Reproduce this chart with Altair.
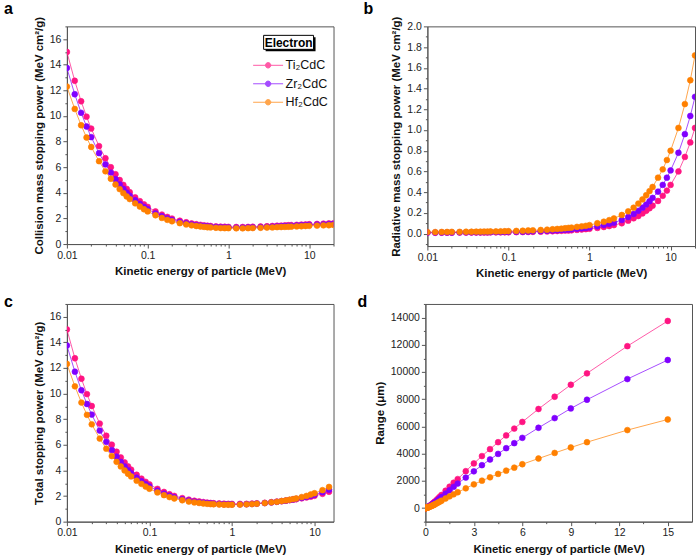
import altair as alt
import pandas as pd

FONT = "Liberation Sans"

# Electron kinetic energies (MeV)
energy = [0.01, 0.0125, 0.015, 0.0175, 0.02, 0.025, 0.03, 0.035, 0.04, 0.045,
          0.05, 0.055, 0.06, 0.07, 0.08, 0.09, 0.1, 0.125, 0.15, 0.175,
          0.2, 0.25, 0.3, 0.35, 0.4, 0.45, 0.5, 0.55, 0.6, 0.7,
          0.8, 0.9, 1.0, 1.25, 1.5, 1.75, 2.0, 2.5, 3.0, 3.5,
          4.0, 4.5, 5.0, 5.5, 6.0, 7.0, 8.0, 9.0, 10.0, 12.5,
          15.0, 17.5, 20.0]
energy_15 = energy[:51]

materials = ["Ti₂CdC", "Zr₂CdC", "Hf₂CdC"]
palette = ["#ff1482", "#8000ff", "#ff8000"]

# Collision mass stopping power (MeV cm2/g)
coll_ti = [15.0, 12.75, 11.15, 9.95, 9.02, 7.65, 6.70, 6.00, 5.45, 5.00,
           4.62, 4.31, 4.05, 3.65, 3.35, 3.10, 2.90, 2.55, 2.30, 2.12,
           1.99, 1.82, 1.70, 1.61, 1.55, 1.50, 1.46, 1.43, 1.41, 1.38,
           1.36, 1.35, 1.34, 1.33, 1.33, 1.34, 1.35, 1.37, 1.39, 1.41,
           1.43, 1.44, 1.46, 1.47, 1.48, 1.50, 1.52, 1.53, 1.55, 1.57,
           1.59, 1.61, 1.62]
coll_zr = [13.75, 11.70, 10.25, 9.18, 8.35, 7.10, 6.22, 5.58, 5.07, 4.66,
           4.31, 4.02, 3.78, 3.42, 3.14, 2.91, 2.73, 2.40, 2.17, 2.01,
           1.89, 1.73, 1.62, 1.54, 1.48, 1.44, 1.41, 1.38, 1.36, 1.33,
           1.31, 1.30, 1.29, 1.28, 1.28, 1.29, 1.30, 1.32, 1.34, 1.36,
           1.38, 1.39, 1.41, 1.42, 1.43, 1.45, 1.47, 1.48, 1.50, 1.52,
           1.54, 1.56, 1.58]
coll_hf = [12.30, 10.55, 9.28, 8.32, 7.58, 6.47, 5.68, 5.10, 4.65, 4.29,
           3.98, 3.72, 3.51, 3.18, 2.93, 2.72, 2.55, 2.25, 2.04, 1.89,
           1.78, 1.63, 1.53, 1.46, 1.41, 1.37, 1.34, 1.31, 1.30, 1.27,
           1.25, 1.24, 1.24, 1.23, 1.23, 1.24, 1.25, 1.27, 1.29, 1.30,
           1.32, 1.33, 1.34, 1.35, 1.36, 1.38, 1.39, 1.41, 1.42, 1.44,
           1.46, 1.47, 1.49]

# Radiative mass stopping power (MeV cm2/g)
rad_ti = [0.008, 0.008, 0.009, 0.009, 0.009, 0.010, 0.010, 0.010, 0.011, 0.011,
          0.011, 0.011, 0.012, 0.012, 0.012, 0.013, 0.013, 0.014, 0.015, 0.016,
          0.017, 0.019, 0.021, 0.023, 0.025, 0.027, 0.029, 0.030, 0.032, 0.036,
          0.040, 0.043, 0.047, 0.055, 0.064, 0.073, 0.082, 0.100, 0.125, 0.148,
          0.170, 0.195, 0.220, 0.245, 0.270, 0.315, 0.365, 0.415, 0.470, 0.600,
          0.740, 0.880, 1.020]
rad_zr = [0.010, 0.010, 0.011, 0.011, 0.011, 0.012, 0.012, 0.013, 0.013, 0.013,
          0.014, 0.014, 0.014, 0.015, 0.015, 0.016, 0.017, 0.018, 0.019, 0.020,
          0.022, 0.024, 0.027, 0.030, 0.032, 0.035, 0.037, 0.040, 0.042, 0.047,
          0.051, 0.055, 0.060, 0.071, 0.083, 0.094, 0.106, 0.132, 0.160, 0.190,
          0.220, 0.250, 0.280, 0.312, 0.345, 0.405, 0.470, 0.540, 0.610, 0.780,
          0.960, 1.135, 1.320]
rad_hf = [0.015, 0.015, 0.016, 0.016, 0.017, 0.017, 0.018, 0.018, 0.019, 0.019,
          0.020, 0.020, 0.021, 0.021, 0.022, 0.023, 0.024, 0.026, 0.028, 0.030,
          0.032, 0.035, 0.038, 0.042, 0.045, 0.048, 0.052, 0.055, 0.058, 0.065,
          0.070, 0.075, 0.082, 0.100, 0.115, 0.130, 0.146, 0.180, 0.215, 0.250,
          0.290, 0.330, 0.370, 0.410, 0.450, 0.540, 0.620, 0.710, 0.800, 1.020,
          1.250, 1.480, 1.720]

# Total stopping power (MeV cm2/g), up to 15 MeV
tot_ti = [15.01, 12.76, 11.16, 9.96, 9.03, 7.66, 6.71, 6.01, 5.46, 5.01,
          4.63, 4.32, 4.06, 3.66, 3.36, 3.11, 2.91, 2.56, 2.32, 2.14,
          2.01, 1.84, 1.72, 1.63, 1.58, 1.53, 1.49, 1.46, 1.44, 1.42,
          1.40, 1.39, 1.39, 1.39, 1.39, 1.41, 1.43, 1.47, 1.52, 1.56,
          1.60, 1.64, 1.68, 1.72, 1.75, 1.82, 1.89, 1.95, 2.02, 2.17,
          2.33]
tot_zr = [13.76, 11.71, 10.26, 9.19, 8.36, 7.11, 6.23, 5.59, 5.08, 4.67,
          4.32, 4.03, 3.79, 3.44, 3.16, 2.93, 2.75, 2.42, 2.19, 2.03,
          1.91, 1.75, 1.65, 1.57, 1.51, 1.48, 1.45, 1.42, 1.40, 1.38,
          1.36, 1.36, 1.35, 1.35, 1.36, 1.38, 1.41, 1.45, 1.50, 1.55,
          1.60, 1.64, 1.69, 1.73, 1.78, 1.86, 1.94, 2.02, 2.11, 2.30,
          2.50]
tot_hf = [12.32, 10.57, 9.30, 8.34, 7.60, 6.49, 5.70, 5.12, 4.67, 4.31,
          4.00, 3.74, 3.53, 3.20, 2.95, 2.74, 2.57, 2.28, 2.07, 1.92,
          1.81, 1.67, 1.57, 1.50, 1.46, 1.42, 1.39, 1.37, 1.36, 1.34,
          1.32, 1.32, 1.32, 1.33, 1.35, 1.37, 1.40, 1.45, 1.51, 1.55,
          1.61, 1.66, 1.71, 1.76, 1.81, 1.92, 2.01, 2.12, 2.22, 2.46,
          2.71]

# CSDA range (micrometres), up to 15 MeV
rng_ti = [0.7, 1.0, 1.3, 1.7, 2.2, 3.2, 4.5, 6.0, 7.5, 9.0,
          11, 13, 15, 20, 25, 30, 36, 51, 68, 85,
          105, 145, 185, 230, 280, 330, 380, 430, 490, 600,
          720, 840, 960, 1270, 1570, 1860, 2130, 2710, 3280, 3820,
          4330, 4840, 5340, 5840, 6330, 7280, 8180, 9060, 9900, 11900,
          13750]
rng_zr = [0.6, 0.85, 1.1, 1.5, 1.9, 2.8, 3.9, 5.1, 6.4, 7.8,
          9.4, 11, 13, 17, 21.5, 26, 31, 44, 58, 73,
          90, 124, 158, 198, 240, 280, 325, 370, 415, 510,
          610, 710, 810, 1060, 1310, 1560, 1800, 2240, 2700, 3150,
          3570, 3980, 4400, 4770, 5160, 5900, 6610, 7320, 7960, 9480,
          10880]
rng_hf = [0.5, 0.7, 0.9, 1.2, 1.5, 2.2, 3.0, 4.0, 5.0, 6.0,
          7.2, 8.5, 10, 13, 16, 19, 23, 32, 42, 52,
          64, 87, 110, 137, 165, 193, 222, 250, 282, 345,
          410, 475, 540, 700, 860, 1010, 1160, 1450, 1740, 2010,
          2260, 2510, 2750, 2970, 3220, 3640, 4050, 4450, 4840, 5730,
          6510]


def tidy(xs, series):
    rows = []
    for name, ys in zip(materials, series):
        for x, y in zip(xs, ys):
            rows.append({"E": x, "v": y, "material": name})
    return pd.DataFrame(rows)


color_scale = alt.Scale(domain=materials, range=palette)

LOG_MAJOR = "abs(log(datum.value)/LN10 - round(log(datum.value)/LN10)) < 1e-6"


def log_values(hi):
    vals = []
    for k in range(-2, 2):
        for m in range(1, 10):
            v = round(m * 10 ** k, 6)
            if v <= hi:
                vals.append(v)
    return vals


def axis(title, values, major, label, fmt=None):
    kw = dict(
        title=title,
        values=values,
        labelExpr=f"({major}) ? {label} : ''",
        tickSize={"condition": {"test": major, "value": 4}, "value": 2},
        labelFlush=False,
        labelOverlap=False,
        grid=False,
    )
    if fmt:
        kw["format"] = fmt
    return alt.Axis(**kw)


x_title = "Kinetic energy of particle (MeV)"


def log_x(hi):
    return alt.X("E:Q", scale=alt.Scale(type="log", domain=[0.01, hi]),
                 axis=axis(x_title, log_values(hi), LOG_MAJOR, "datum.value + ''"))


def letter_mark(letter, dx, dy):
    return alt.Chart(pd.DataFrame({"t": [letter]})).mark_text(
        font=FONT, fontSize=16, fontWeight="bold", align="left",
        baseline="alphabetic", color="black",
    ).encode(text="t:N", x=alt.value(dx), y=alt.value(dy))


def panel(df, x_enc, y_enc, letter, w, h, legend=None, extras=()):
    base = alt.Chart(df)
    lines = base.mark_line(strokeWidth=1, opacity=0.7, clip=True).encode(
        x=x_enc, y=y_enc,
        stroke=alt.Stroke("material:N", scale=color_scale, legend=legend),
    )
    pts = base.mark_point(filled=True, size=34, strokeWidth=0.6, opacity=1, clip=True).encode(
        x=x_enc, y=y_enc,
        fill=alt.Fill("material:N", scale=color_scale, legend=legend),
        stroke=alt.Stroke("material:N", scale=color_scale, legend=legend),
    )
    return alt.layer(lines, pts, letter, *extras).properties(width=w, height=h)


# legend swatch: a short line with a dot in its middle
legend = alt.Legend(
    title=None, orient="none", legendX=186, legendY=31,
    symbolType="M-1,0L3,0M0.64,0A0.36,0.36,0,1,1,1.36,0A0.36,0.36,0,1,1,0.64,0Z",
    symbolSize=225, symbolStrokeWidth=1, labelFontSize=12.5, labelFont=FONT,
    labelColor="#111", labelOffset=17, rowPadding=3.5, padding=0,
)

# boxed "Electron" heading above the legend entries
tag = pd.DataFrame({"t": ["Electron"]})
tag_shadow = alt.Chart(tag).mark_rect(color="black").encode(
    x=alt.value(199), x2=alt.value(249), y=alt.value(11), y2=alt.value(25))
tag_box = alt.Chart(tag).mark_rect(fill="white", stroke="black", strokeWidth=1).encode(
    x=alt.value(197), x2=alt.value(247), y=alt.value(9), y2=alt.value(23))
tag_text = alt.Chart(tag).mark_text(font=FONT, fontSize=12, fontWeight="bold",
                                    baseline="middle", color="black").encode(
    text="t:N", x=alt.value(222), y=alt.value(16.5))

# a: collision stopping power
y_a = alt.Y("v:Q", scale=alt.Scale(domain=[0, 17]),
            axis=axis("Collision mass stopping power (MeV cm²/g)", list(range(0, 18)),
                      "datum.value % 2 == 0", "datum.label", "d"))
pa = panel(tidy(energy, [coll_ti, coll_zr, coll_hf]), log_x(20), y_a,
           letter_mark("a", -63, -12), 267, 218, legend=legend,
           extras=(tag_shadow, tag_box, tag_text))

# b: radiative stopping power
b_vals = [round(-0.1 + 0.1 * i, 1) for i in range(22)]
y_b = alt.Y("v:Q", scale=alt.Scale(domain=[-0.12, 2.0]),
            axis=axis("Radiative mass stopping power (MeV cm²/g)", b_vals,
                      "abs(round(datum.value*10)) % 2 == 0", "datum.label", ".1f"))
pb = panel(tidy(energy, [rad_ti, rad_zr, rad_hf]), log_x(20), y_b,
           letter_mark("b", -64, -12), 268, 220)

# c: total stopping power
y_c = alt.Y("v:Q", scale=alt.Scale(domain=[0, 17]),
            axis=axis("Total stopping power (MeV cm²/g)", list(range(0, 18)),
                      "datum.value % 2 == 0", "datum.label", "d"))
pc = panel(tidy(energy_15, [tot_ti, tot_zr, tot_hf]), log_x(17), y_c,
           letter_mark("c", -63, 3), 267, 218)

# d: CSDA range, linear energy axis
x_d = alt.X("E:Q", scale=alt.Scale(domain=[0, 16.5]),
            axis=axis(x_title, [1.5 * i for i in range(11)], "datum.value % 3 == 0",
                      "datum.label", "d"))
y_d = alt.Y("v:Q", scale=alt.Scale(domain=[-1000, 15000]),
            axis=axis("Range (μm)", list(range(-1000, 15001, 1000)),
                      "datum.value % 2000 == 0", "datum.label", "d"))
pd_ = panel(tidy(energy_15, [rng_ti, rng_zr, rng_hf]), x_d, y_d,
            letter_mark("d", -68, 3), 267, 218)

chart = alt.vconcat(
    alt.hconcat(pa, pb, spacing=28),
    alt.hconcat(pc, pd_, spacing=22),
    spacing=13,
).properties(
    padding={"left": 3, "top": 0, "right": 0, "bottom": 0},
).configure_view(
    stroke="#555", strokeWidth=1,
).configure_axis(
    labelFont=FONT, labelFontSize=10.5, labelColor="#222",
    titleFont=FONT, titleFontSize=11.5, titleFontWeight="bold", titleColor="#111",
    domainColor="#555", tickColor="#555", domainWidth=1, tickWidth=1,
    labelPadding=2, titlePadding=5,
)

chart.save("out.html", embed_options={"renderer": "svg", "actions": False})
